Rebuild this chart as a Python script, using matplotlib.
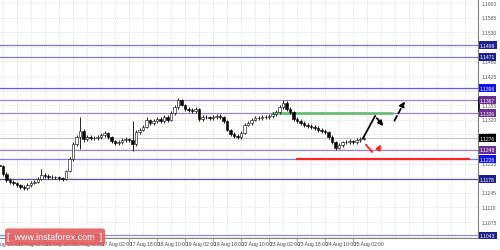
import matplotlib
matplotlib.use("Agg")
import matplotlib.pyplot as plt
from matplotlib import transforms
from matplotlib.patches import FancyBboxPatch

plt.rcParams['font.family'] = ['Liberation Sans Narrow', 'Liberation Sans', 'DejaVu Sans']

# hours counted from 12 Aug 10:00, one candle every 2 hours
start_hour = 6
closes = [1.1209, 1.1190, 1.1176, 1.1171, 1.1168, 1.1164, 1.1159, 1.1156, 1.1164, 1.1168,
          1.1171, 1.1178, 1.1188, 1.1185, 1.1183, 1.1183, 1.1183, 1.1180, 1.1178, 1.1197,
          1.1226, 1.1262, 1.1279, 1.1293, 1.1274, 1.1279, 1.1276, 1.1276, 1.1279, 1.1284,
          1.1288, 1.1279, 1.1269, 1.1264, 1.1267, 1.1272, 1.1274, 1.1272, 1.1262, 1.1291,
          1.1296, 1.1303, 1.1320, 1.1312, 1.1317, 1.1322, 1.1317, 1.1327, 1.1320, 1.1336,
          1.1351, 1.1368, 1.1356, 1.1346, 1.1344, 1.1341, 1.1346, 1.1322, 1.1327, 1.1327,
          1.1324, 1.1327, 1.1329, 1.1327, 1.1317, 1.1296, 1.1286, 1.1281, 1.1279, 1.1288,
          1.1308, 1.1312, 1.1320, 1.1324, 1.1324, 1.1327, 1.1327, 1.1329, 1.1334, 1.1339,
          1.1351, 1.1360, 1.1346, 1.1339, 1.1322, 1.1317, 1.1312, 1.1308, 1.1305, 1.1303,
          1.1300, 1.1296, 1.1293, 1.1291, 1.1279, 1.1267, 1.1252, 1.1260, 1.1267, 1.1267,
          1.1269, 1.1267, 1.1272, 1.1274, 1.1276]
highs = [1.1216, 1.1212, 1.1194, 1.1180, 1.1175, 1.1172, 1.1167, 1.1163, 1.1168, 1.1173,
         1.1176, 1.1183, 1.1202, 1.1192, 1.1189, 1.1187, 1.1186, 1.1186, 1.1184, 1.1200,
         1.1230, 1.1266, 1.1284, 1.1327, 1.1298, 1.1284, 1.1283, 1.1281, 1.1283, 1.1288,
         1.1292, 1.1291, 1.1282, 1.1272, 1.1271, 1.1276, 1.1278, 1.1277, 1.1317, 1.1295,
         1.1300, 1.1308, 1.1326, 1.1323, 1.1322, 1.1327, 1.1326, 1.1332, 1.1331, 1.1340,
         1.1355, 1.1373, 1.1371, 1.1359, 1.1350, 1.1348, 1.1350, 1.1349, 1.1331, 1.1331,
         1.1330, 1.1331, 1.1333, 1.1333, 1.1330, 1.1320, 1.1299, 1.1290, 1.1285, 1.1292,
         1.1312, 1.1317, 1.1324, 1.1329, 1.1329, 1.1332, 1.1331, 1.1334, 1.1338, 1.1344,
         1.1356, 1.1368, 1.1364, 1.1350, 1.1342, 1.1326, 1.1321, 1.1316, 1.1312, 1.1309,
         1.1307, 1.1304, 1.1300, 1.1297, 1.1294, 1.1283, 1.1270, 1.1264, 1.1270, 1.1271,
         1.1273, 1.1272, 1.1276, 1.1278, 1.1279]
lows = [1.1203, 1.1186, 1.1171, 1.1166, 1.1163, 1.1159, 1.1154, 1.1151, 1.1152, 1.1160,
        1.1165, 1.1168, 1.1175, 1.1180, 1.1179, 1.1179, 1.1178, 1.1176, 1.1174, 1.1175,
        1.1194, 1.1222, 1.1258, 1.1250, 1.1268, 1.1270, 1.1272, 1.1272, 1.1272, 1.1275,
        1.1280, 1.1275, 1.1264, 1.1259, 1.1260, 1.1263, 1.1268, 1.1268, 1.1245, 1.1258,
        1.1287, 1.1292, 1.1300, 1.1308, 1.1308, 1.1313, 1.1312, 1.1313, 1.1315, 1.1317,
        1.1332, 1.1347, 1.1352, 1.1341, 1.1339, 1.1337, 1.1337, 1.1318, 1.1317, 1.1322,
        1.1320, 1.1320, 1.1323, 1.1322, 1.1313, 1.1292, 1.1281, 1.1276, 1.1274, 1.1275,
        1.1285, 1.1304, 1.1308, 1.1316, 1.1319, 1.1320, 1.1322, 1.1323, 1.1325, 1.1330,
        1.1335, 1.1347, 1.1342, 1.1334, 1.1318, 1.1312, 1.1307, 1.1303, 1.1300, 1.1299,
        1.1296, 1.1291, 1.1288, 1.1286, 1.1274, 1.1262, 1.1248, 1.1249, 1.1256, 1.1262,
        1.1263, 1.1263, 1.1263, 1.1268, 1.1271]
first_open = 1.1212

time_labels = ['12 Aug 10:00', '15 Aug 02:00', '15 Aug 18:00', '16 Aug 10:00', '17 Aug 02:00',
               '17 Aug 18:00', '18 Aug 10:00', '19 Aug 02:00', '19 Aug 18:00', '22 Aug 10:00',
               '23 Aug 02:00', '23 Aug 18:00', '24 Aug 10:00', '25 Aug 02:00']
label_hours = [0, 16, 32, 48, 64, 80, 96, 112, 128, 144, 160, 176, 192, 208]

grid_prices = [1.1040, 1.1075, 1.1110, 1.1145, 1.1180, 1.1215, 1.1250, 1.1285, 1.1320,
               1.1355, 1.1390, 1.1425, 1.1460, 1.1495, 1.1530, 1.1565, 1.1600]
# scale labels not hidden behind the level boxes
price_labels = [1.1040, 1.1075, 1.1110, 1.1145, 1.1215, 1.1285, 1.1320,
                1.1355, 1.1425, 1.1460, 1.1530, 1.1565, 1.1600]

# horizontal levels: price, line colour, label box colour
levels = [1.1499, 1.1471, 1.1396, 1.1367, 1.1336, 1.1276, 1.1248, 1.1226, 1.1178, 1.1043]
level_colors = ['#7a7ac4', '#7a7ac4', '#5a5aff', '#a27ecb', '#a27ecb', '#c8c8c8',
                '#a27ecb', '#7b7bff', '#5a5a96', '#8f8fd2']
box_colors = ['#1f1f8f', '#1f1f8f', '#1010ff', '#6b2d93', '#6b2d93', '#000000',
              '#6b2d93', '#1010ff', '#1f1f8f', '#1f1f8f']

# drawn forecast
green_level = 1.1336
green_hours = [162, 230]
red_level = 1.1226
red_hours = [176, 274]
black_path_h = [213.7, 220.6, 226.3]
black_path_p = [1.1276, 1.1329, 1.1300]
black_arrow_h = [230.9, 238.3]
black_arrow_p = [1.1312, 1.1370]
red_tick_h = [215.4, 218.9]
red_tick_p = [1.1260, 1.1243]
red_arrow_h = [221.7, 224.6]
red_arrow_p = [1.1243, 1.1267]

fig = plt.figure(figsize=(5.0, 2.51), dpi=100)
ax = fig.add_axes([0, 12 / 251, 478 / 500, 239 / 251])
ax.set_xlim(6.29, 279.4)
ax.set_ylim(1.10367, 1.16096)

# grid
for h in range(0, 280, 8):
    ax.axvline(h, color='#c4c4c4', lw=0.5, ls=(0, (1, 2)), zorder=0)
for p in grid_prices:
    ax.axhline(p, color='#c4c4c4', lw=0.5, ls=(0, (1, 2)), zorder=0)

# levels
for p, c in zip(levels, level_colors):
    ax.axhline(p, color=c, lw=0.9, zorder=1)

ax.plot(green_hours, [green_level] * 2, color='#5cba6a', lw=1.8, zorder=2)
ax.plot(red_hours, [red_level] * 2, color='#ff2424', lw=1.6, zorder=2)

# candles
opens = [first_open] + closes[:-1]
for i in range(len(closes)):
    h = start_hour + 2 * i
    o, c = opens[i], closes[i]
    ax.vlines(h, lows[i], highs[i], color='black', lw=0.6, zorder=3)
    bottom = min(o, c)
    height = max(abs(c - o), 0.00004)
    ax.bar(h, height, bottom=bottom, width=1.2, color='white' if c > o else 'black',
           edgecolor='black', linewidth=0.4, zorder=4)

# forecast arrows
ax.plot(black_path_h[:-1], black_path_p[:-1], color='black', lw=1.3, zorder=5)
ax.annotate('', xy=(black_path_h[2], black_path_p[2]), xytext=(black_path_h[1], black_path_p[1]),
            arrowprops=dict(arrowstyle='-|>', color='black', lw=1.3, mutation_scale=7), zorder=5)
ax.annotate('', xy=(black_arrow_h[1], black_arrow_p[1]), xytext=(black_arrow_h[0], black_arrow_p[0]),
            arrowprops=dict(arrowstyle='-|>', color='black', lw=1.3, mutation_scale=7,
                            linestyle=(0, (3, 1.5))), zorder=5)
ax.plot(red_tick_h, red_tick_p, color='#ff2424', lw=1.3, zorder=5)
ax.annotate('', xy=(red_arrow_h[1], red_arrow_p[1]), xytext=(red_arrow_h[0], red_arrow_p[0]),
            arrowprops=dict(arrowstyle='-|>', color='#ff2424', lw=1.3, mutation_scale=7), zorder=5)

# axes frame
for side in ['top', 'left']:
    ax.spines[side].set_visible(False)
for side in ['right', 'bottom']:
    ax.spines[side].set_color('#808080')
    ax.spines[side].set_linewidth(0.8)
ax.set_xticks([])
ax.set_yticks([])

ytrans = transforms.blended_transform_factory(ax.transAxes, ax.transData)
xtrans = transforms.blended_transform_factory(ax.transData, ax.transAxes)

for p in price_labels:
    ax.text(1.007, p, '%.4f' % p, transform=ytrans, fontsize=3.6, color='#555555',
            va='center', ha='left', clip_on=False, zorder=6)
for p, bc in zip(levels, box_colors):
    ax.text(1.004, p, '%.4f' % p, transform=ytrans, fontsize=3.6, color='white',
            va='center', ha='left', clip_on=False, zorder=8,
            bbox=dict(boxstyle='square,pad=0.25', fc=bc, ec='none'))
ax.plot([1.002, 1.002], [1.1340, 1.1372], transform=ytrans, color='black', lw=1.2,
        clip_on=False, zorder=7)

for h, lab in zip(label_hours, time_labels):
    ax.plot([h, h], [0, -0.012], transform=xtrans, color='#808080', lw=0.5, clip_on=False)
    ax.text(h + 0.6, -0.012, lab, transform=xtrans, fontsize=3.6, color='#444444',
            va='top', ha='left', clip_on=False)

# watermark
wm = FancyBboxPatch((0.010, 0.018), 0.200, 0.068, boxstyle='round,pad=0.0,rounding_size=0.008',
                    transform=fig.transFigure, fc='#e05555', ec='none', alpha=0.85, zorder=10)
fig.patches.append(wm)
fig.text(0.110, 0.052, '[  www.instaforex.com  ]', color='white', fontsize=6.5,
         ha='center', va='center', zorder=11,
         family=['Liberation Sans', 'DejaVu Sans'])

fig.savefig('out.png', dpi=100)
